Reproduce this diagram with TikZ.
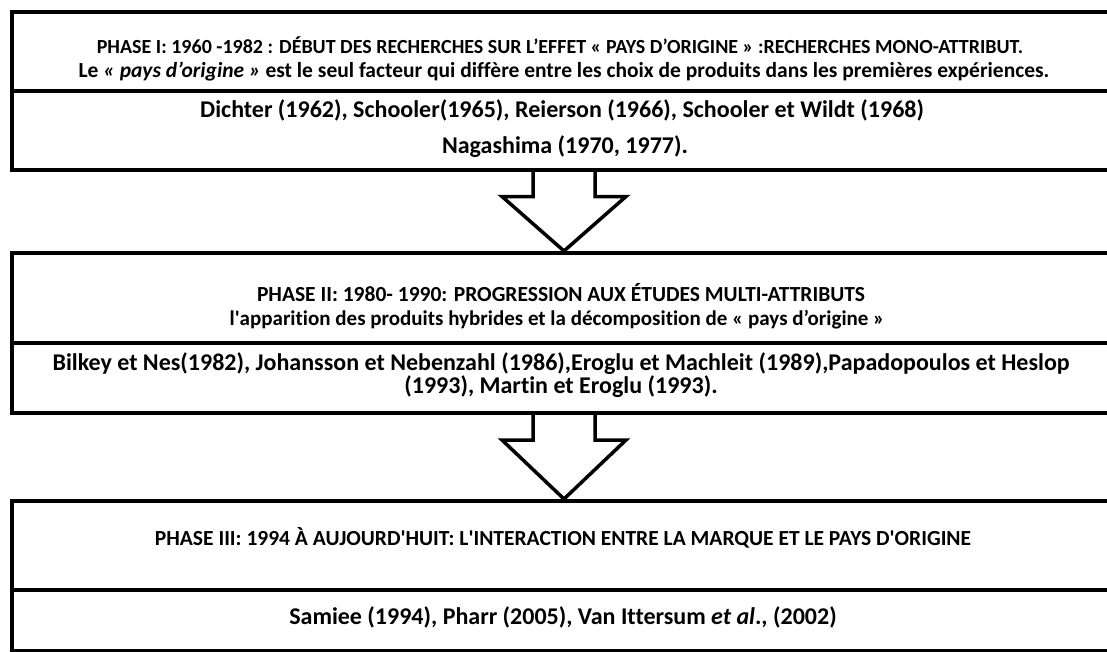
\documentclass[tikz,border=0pt]{standalone}
\usepackage{fontspec}
\setmainfont{Carlito}[Ligatures=NoCommon]
\usetikzlibrary{calc}
\newcommand{\sq}{\textquotesingle}
\begin{document}
\begin{tikzpicture}[x=1pt,y=-1pt,
  frame/.style={draw=black, line width=4pt, minimum width=1115pt, anchor=north west, inner sep=0pt},
  rule/.style={draw=black, line width=4pt},
  blockarrow/.style={draw=black, line width=3.5pt, line join=miter},
  head/.style={font=\bfseries\fontsize{21.5}{24}\selectfont, inner sep=0pt},
  sub/.style={font=\bfseries\fontsize{21.5}{24}\selectfont, inner sep=0pt},
  refs/.style={font=\bfseries\fontsize{24}{21}\selectfont, inner sep=0pt, align=center}]
\useasboundingbox (0,0) rectangle (1107,651);

% phase boxes (open to the right, beyond the page edge)
\node[frame, minimum height=157.5pt] (box1) at (10,10) {};
\node[frame, minimum height=160pt] (box2) at (10,251) {};
\node[frame, minimum height=150pt] (box3) at (10,499) {};

% dividers between the heading part and the references part
\draw[rule] (box1.west |- 0,91) -- (box1.east |- 0,91);
\draw[rule] (box2.west |- 0,343) -- (box2.east |- 0,343);
\draw[rule] (box3.west |- 0,590) -- (box3.east |- 0,590);

% block arrows from one phase to the next
\coordinate (a1) at (564,0);
\draw[blockarrow] ($(a1|-box1.south)+(-31,0)$) -- ++(0,25) -- ++(-31,0) -- (a1|-box2.north)
  -- ($(a1|-box1.south)+(62,25)$) -- ++(-31,0) -- ++(0,-25);
\draw[blockarrow] ($(a1|-box2.south)+(-31,0)$) -- ++(0,25) -- ++(-31,0) -- (a1|-box3.north)
  -- ($(a1|-box2.south)+(62,25)$) -- ++(-31,0) -- ++(0,-25);

% phase I
\node[head, font=\bfseries\fontsize{20}{24}\selectfont] (p1h) at (560,45) {PHASE I: 1960 -1982 : DÉBUT DES RECHERCHES SUR L’EFFET « PAYS D’ORIGINE » :RECHERCHES MONO-ATTRIBUT.};
\node[sub] (p1s) at (564,72) {Le \textit{« pays d’origine »} est le seul facteur qui diffère entre les choix de produits dans les premières expériences.};
\node[refs, anchor=west] (p1r) at (200,110) {Dichter (1962), Schooler(1965), Reierson (1966), Schooler et Wildt (1968)};
\node[refs] (p1n) at (565,147) {Nagashima (1970, 1977).};

% phase II
\node[head] (p2h) at (561,293) {PHASE II: 1980- 1990: PROGRESSION AUX ÉTUDES MULTI-ATTRIBUTS};
\node[sub, font=\bfseries\fontsize{21}{24}\selectfont] (p2s) at (557,320) {l\sq apparition des produits hybrides et la décomposition de « pays d’origine »};
\node[refs] (p2r) at (561,375) {Bilkey et Nes(1982), Johansson et Nebenzahl (1986),Eroglu et Machleit (1989),Papadopoulos et Heslop\\(1993), Martin et Eroglu (1993).};

% phase III
\node[head] (p3h) at (563,538) {PHASE III: 1994 À AUJOURD\sq HUIT: L\sq INTERACTION ENTRE LA MARQUE ET LE PAYS D\sq ORIGINE};
\node[refs] (p3r) at (563,617) {Samiee (1994), Pharr (2005), Van Ittersum \textit{et al}., (2002)};
\end{tikzpicture}
\end{document}
